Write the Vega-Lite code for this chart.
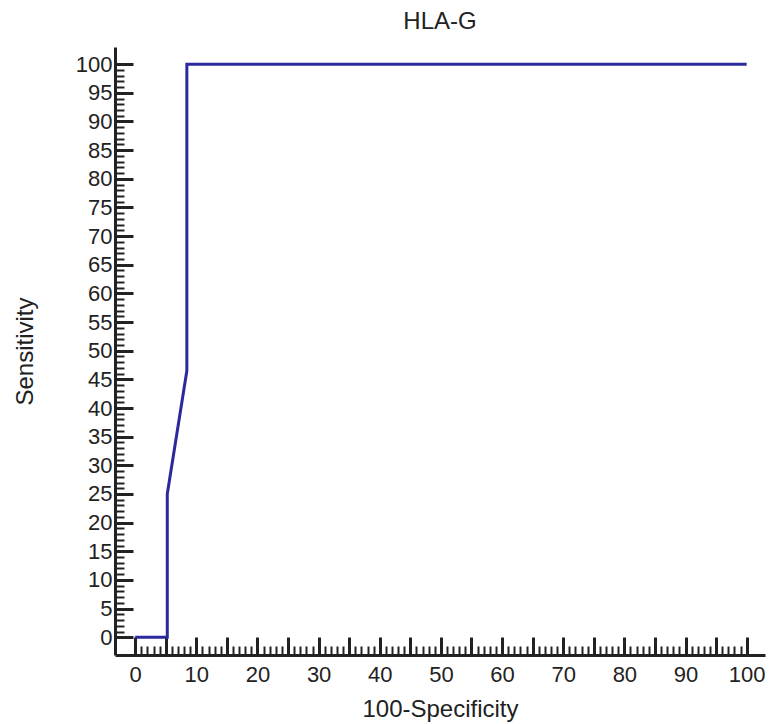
{
  "$schema": "https://vega.github.io/schema/vega-lite/v6.json",
  "width": 650,
  "height": 608,
  "autosize": "none",
  "padding": {"left": 115, "top": 47, "right": 4, "bottom": 69},
  "background": "white",
  "title": {"text": "HLA-G", "font": "Liberation Sans", "fontSize": 24, "fontWeight": "normal", "color": "#222", "offset": 13, "anchor": "middle"},
  "config": {"view": {"stroke": null}},
  "data": {"values": [
    {"i": 1, "fpr": 0, "sens": 0},
    {"i": 2, "fpr": 5.25, "sens": 0},
    {"i": 3, "fpr": 5.25, "sens": 25},
    {"i": 4, "fpr": 8.45, "sens": 46.5},
    {"i": 5, "fpr": 8.45, "sens": 100},
    {"i": 6, "fpr": 100, "sens": 100}
  ]},
  "mark": {"type": "line", "color": "#2a2a9c", "strokeWidth": 3, "interpolate": "linear"},
  "encoding": {
    "x": {"field": "fpr", "type": "quantitative", "scale": {"domain": [-3.3, 103], "nice": false, "zero": false},
      "axis": {"title": "100-Specificity", "values": [0,1,2,3,4,5,6,7,8,9,10,11,12,13,14,15,16,17,18,19,20,21,22,23,24,25,26,27,28,29,30,31,32,33,34,35,36,37,38,39,40,41,42,43,44,45,46,47,48,49,50,51,52,53,54,55,56,57,58,59,60,61,62,63,64,65,66,67,68,69,70,71,72,73,74,75,76,77,78,79,80,81,82,83,84,85,86,87,88,89,90,91,92,93,94,95,96,97,98,99,100],
        "labelExpr": "datum.value % 10 === 0 ? datum.label : ''",
        "tickSize": {"condition": {"test": "datum.value % 5 === 0", "value": -18}, "value": -9},
        "tickWidth": {"condition": {"test": "datum.value % 5 === 0", "value": 3}, "value": 2},
        "tickColor": "#222", "domainColor": "#222", "domainWidth": 3, "grid": false,
        "labelFont": "Liberation Sans", "labelFontSize": 22, "labelColor": "#222", "labelPadding": 27, "labelOverlap": false, "labelFlush": false,
        "titleFont": "Liberation Sans", "titleFontSize": 24, "titleFontWeight": "normal", "titleColor": "#222", "titlePadding": 3}},
    "y": {"field": "sens", "type": "quantitative", "scale": {"domain": [-3.1, 103], "nice": false, "zero": false},
      "axis": {"title": "Sensitivity", "values": [0,1,2,3,4,5,6,7,8,9,10,11,12,13,14,15,16,17,18,19,20,21,22,23,24,25,26,27,28,29,30,31,32,33,34,35,36,37,38,39,40,41,42,43,44,45,46,47,48,49,50,51,52,53,54,55,56,57,58,59,60,61,62,63,64,65,66,67,68,69,70,71,72,73,74,75,76,77,78,79,80,81,82,83,84,85,86,87,88,89,90,91,92,93,94,95,96,97,98,99,100],
        "labelExpr": "datum.value % 5 === 0 ? datum.label : ''",
        "tickSize": {"condition": {"test": "datum.value % 5 === 0", "value": -18}, "value": -9},
        "tickWidth": {"condition": {"test": "datum.value % 5 === 0", "value": 3}, "value": 2},
        "tickColor": "#222", "domainColor": "#222", "domainWidth": 3, "grid": false,
        "labelFont": "Liberation Sans", "labelFontSize": 22, "labelColor": "#222", "labelPadding": 21, "labelOverlap": false, "labelFlush": false,
        "titleFont": "Liberation Sans", "titleFontSize": 24, "titleFontWeight": "normal", "titleColor": "#222", "titlePadding": 38}},
    "order": {"field": "i", "type": "quantitative"}
  }
}
